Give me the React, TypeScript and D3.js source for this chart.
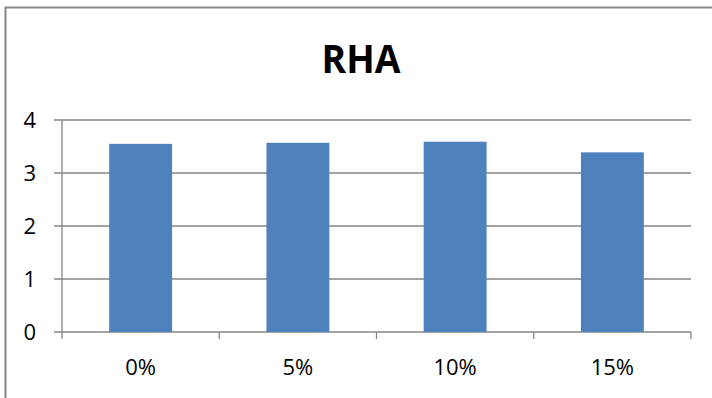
import React from "react";
import * as d3 from "d3";

// Chart data
const categories: string[] = ["0%", "5%", "10%", "15%"];
const values: number[] = [3.55, 3.57, 3.59, 3.39];
const yTicks: number[] = [0, 1, 2, 3, 4];
const chartTitle = "RHA";

const W = 712;
const H = 398;
const plot = { left: 62, right: 691, top: 120, bottom: 332 };
const GRID = "#868686";
const BAR = "#4F81BD";
const FONT = "'Open Sans', 'Liberation Sans', Arial, sans-serif";

export default function App() {
  const x = d3
    .scaleBand<string>()
    .domain(categories)
    .range([plot.left, plot.right])
    .paddingInner(0.6)
    .paddingOuter(0.3);
  const band = d3.scaleBand<string>().domain(categories).range([plot.left, plot.right]);
  const y = d3.scaleLinear().domain([0, 4]).range([plot.bottom, plot.top]);

  const boundaries = d3.range(categories.length + 1).map((i) => plot.left + i * band.step());

  return (
    <svg
      width={W}
      height={H}
      style={{ position: "absolute", left: 0, top: 0, background: "#fff" }}
    >
      {/* chart frame */}
      <rect x={5.5} y={7.5} width={W + 20} height={H + 20} fill="#fff" stroke={GRID} strokeWidth={2} />

      <text
        x={361}
        y={73}
        textAnchor="middle"
        fontFamily={FONT}
        fontWeight="bold"
        fontSize={40}
        fill="#000"
        textLength={79}
        lengthAdjust="spacingAndGlyphs"
      >
        {chartTitle}
      </text>

      {/* horizontal gridlines with outward ticks */}
      {yTicks.map((t) => (
        <g key={t}>
          <line x1={plot.left - 8} x2={plot.right} y1={y(t)} y2={y(t)} stroke={GRID} strokeWidth={1.3} />
          <text
            x={36}
            y={y(t) + 7.8}
            textAnchor="end"
            fontFamily={FONT}
            fontSize={22}
            fill="#000"
          >
            {t}
          </text>
        </g>
      ))}

      {/* y axis */}
      <line x1={plot.left} x2={plot.left} y1={plot.top} y2={plot.bottom} stroke={GRID} strokeWidth={1.3} />

      {/* bars */}
      {categories.map((c, i) => (
        <rect
          key={c}
          x={x(c)!}
          y={y(values[i])}
          width={x.bandwidth()}
          height={plot.bottom - y(values[i])}
          fill={BAR}
        />
      ))}

      {/* x axis ticks */}
      {boundaries.map((bx, i) => (
        <line key={i} x1={bx} x2={bx} y1={plot.bottom} y2={plot.bottom + 7} stroke={GRID} strokeWidth={1.3} />
      ))}

      {categories.map((c) => (
        <text
          key={c}
          x={band(c)! + band.bandwidth() / 2}
          y={375}
          textAnchor="middle"
          fontFamily={FONT}
          fontSize={22}
          fill="#000"
        >
          {c}
        </text>
      ))}
    </svg>
  );
}
